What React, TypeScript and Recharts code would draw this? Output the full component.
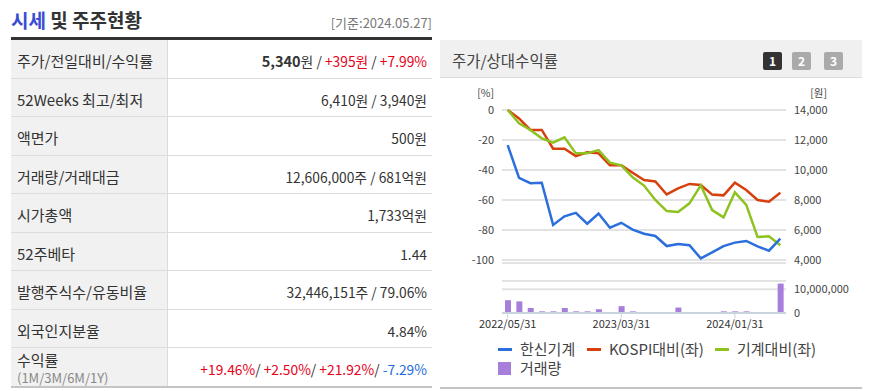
import React from 'react';
import { ComposedChart, Line, Bar, XAxis, YAxis, CartesianGrid } from 'recharts';

// ---------- chart data ----------
const dates = [
  '2022/05/31', '2022/06/30', '2022/07/31', '2022/08/31', '2022/09/30', '2022/10/31',
  '2022/11/30', '2022/12/31', '2023/01/31', '2023/02/28', '2023/03/31', '2023/04/30',
  '2023/05/31', '2023/06/30', '2023/07/31', '2023/08/31', '2023/09/30', '2023/10/31',
  '2023/11/30', '2023/12/31', '2024/01/31', '2024/02/29', '2024/03/31', '2024/04/30',
  '2024/05/27',
];
const hanshinPrice = [
  11660, 9480, 9120, 9150, 6340, 6910, 7140, 6420, 7100, 6150, 6480, 6030,
  5750, 5600, 4930, 5070, 4980, 4110, 4510, 4930, 5160, 5270, 4910, 4620, 5420,
];
const kospiRel = [
  0, -5.6, -13.3, -13.3, -25.8, -25.8, -30.7, -28.2, -28.9, -36.9, -36.9, -41.8,
  -46.7, -47.6, -56.3, -52.2, -49.3, -50, -56.4, -56.9, -48.4, -53.3, -60, -61.1, -55.1,
];
const machineRel = [
  0, -8.9, -13.3, -18.9, -21.8, -18.2, -28.9, -28.9, -26.7, -35.1, -36.9, -44.9,
  -50.4, -60, -67.4, -68, -62.2, -50.2, -66.7, -71.6, -54.9, -63.3, -84.7, -84.2, -90.2,
];
const volume = [
  5400000, 4900000, 2100000, 700000, 700000, 2100000, 700000, 700000, 1600000, 0,
  2900000, 700000, 0, 0, 0, 2300000, 0, 0, 0, 700000, 700000, 700000, 0, 0, 12400000,
];
const pctTicks = [0, -20, -40, -60, -80, -100];
const priceTicks = [4000, 6000, 8000, 10000, 12000, 14000];
const volTicks = [0, 10000000];
const dateTicks = ['2022/05/31', '2023/03/31', '2024/01/31'];

// ---------- table data ----------
const RED = '#e6001a';
const BLUE = '#1f6be0';
const rowLabels = [
  '주가/전일대비/수익률', '52Weeks 최고/최저', '액면가', '거래량/거래대금', '시가총액',
  '52주베타', '발행주식수/유동비율', '외국인지분율', '수익률',
];
type Seg = { t: string; c?: string; b?: boolean };
const rowValues: Seg[][] = [
  [{ t: '5,340', b: true }, { t: '원 / ' }, { t: '+395원', c: RED }, { t: ' / ' }, { t: '+7.99%', c: RED }],
  [{ t: '6,410원 / 3,940원' }],
  [{ t: '500원' }],
  [{ t: '12,606,000주 / 681억원' }],
  [{ t: '1,733억원' }],
  [{ t: '1.44' }],
  [{ t: '32,446,151주 / 79.06%' }],
  [{ t: '4.84%' }],
  [
    { t: '+19.46%', c: RED }, { t: '/ ' }, { t: '+2.50%', c: RED }, { t: '/ ' },
    { t: '+21.92%', c: RED }, { t: '/ ' }, { t: '-7.29%', c: BLUE },
  ],
];
const legendLines = [
  { name: '한신기계', color: '#2c6fdc', left: 498 },
  { name: 'KOSPI대비(좌)', color: '#d6400c', left: 587 },
  { name: '기계대비(좌)', color: '#8dc21f', left: 715 },
];
const legendBar = { name: '거래량', color: '#a87edb', left: 498 };

const data = dates.map((d, i) => ({
  date: d,
  price: hanshinPrice[i],
  kospi: kospiRel[i],
  machine: machineRel[i],
  vol: volume[i],
}));

const FONT = '"Noto Sans CJK KR", "Noto Sans", sans-serif';
const fmt = (v: number) => v.toLocaleString('en-US');

const abs = (left: number, top: number, extra: React.CSSProperties = {}): React.CSSProperties => ({
  position: 'absolute',
  left,
  top,
  ...extra,
});

export default function App() {
  const rowH = 38.5;
  return (
    <div
      style={{
        position: 'absolute',
        left: 0,
        top: 0,
        width: 875,
        height: 391,
        background: '#fff',
        fontFamily: FONT,
        color: '#333',
        overflow: 'hidden',
      }}
    >
      {/* ----- left panel ----- */}
      <div style={abs(11, 6, { fontSize: 19, fontWeight: 700, lineHeight: '28px', whiteSpace: 'nowrap' })}>
        <span style={{ color: '#3a4bd4' }}>시세</span>
        <span style={{ color: '#333' }}> 및 주주현황</span>
      </div>
      <div style={abs(300, 13, { width: 132, textAlign: 'right', fontSize: 13, color: '#777', lineHeight: '20px' })}>
        [기준:2024.05.27]
      </div>
      <div style={abs(11, 37, { width: 421, height: 3, background: '#333' })} />
      {rowLabels.map((lab, i) => {
        const top = 40 + i * rowH;
        const last = i === rowLabels.length - 1;
        return (
          <React.Fragment key={lab}>
            <div style={abs(11, top, { width: 156, height: rowH, background: '#f1f1f1' })} />
            <div style={abs(167, top, { width: 1, height: rowH, background: '#dcdcdc' })} />
            {!last && <div style={abs(11, top + rowH - 1, { width: 421, height: 1, background: '#dcdcdc' })} />}
            {!last ? (
              <div style={abs(17, top, { height: rowH, lineHeight: `${rowH + 4}px`, fontSize: 15, color: '#333', whiteSpace: 'nowrap' })}>
                {lab}
              </div>
            ) : (
              <>
                <div style={abs(17, top + 2, { fontSize: 15, lineHeight: '20px', color: '#333' })}>{lab}</div>
                <div style={abs(17, top + 22, { fontSize: 13, lineHeight: '16px', color: '#888', whiteSpace: 'nowrap' })}>(1M/3M/6M/1Y)</div>
              </>
            )}
            <div
              style={abs(168, top, {
                width: 259,
                height: rowH,
                lineHeight: `${rowH + 4}px`,
                textAlign: 'right',
                fontSize: 13.8,
                color: '#333',
                whiteSpace: 'nowrap',
              })}
            >
              {rowValues[i].map((s, j) => (
                <span key={j} style={{ color: s.c || '#333', fontWeight: s.b ? 700 : 400, fontSize: s.b ? 14.5 : 13.8 }}>
                  {s.t}
                </span>
              ))}
            </div>
          </React.Fragment>
        );
      })}
      <div style={abs(11, 386, { width: 421, height: 2, background: '#c4c4c4' })} />

      {/* ----- right panel ----- */}
      <div style={abs(440, 40, { width: 422, height: 37, background: '#f0f0f0', borderBottom: '1px solid #dcdcdc' })} />
      <div style={abs(452, 49, { fontSize: 15.5, lineHeight: '22px', color: '#444' })}>주가/상대수익률</div>
      {['1', '2', '3'].map((n, i) => (
        <div
          key={n}
          style={abs([763, 792, 824][i], 52, {
            width: 19,
            height: 18,
            borderRadius: 2,
            background: i === 0 ? '#333' : '#aaa',
            color: '#fff',
            fontSize: 12,
            fontWeight: 700,
            lineHeight: '18px',
            textAlign: 'center',
          })}
        >
          {n}
        </div>
      ))}
      <div style={abs(470, 86, { width: 24, textAlign: 'right', fontSize: 10.5, color: '#444', lineHeight: '14px' })}>[%]</div>
      <div style={abs(800, 86, { width: 27, textAlign: 'right', fontSize: 10.5, color: '#444', lineHeight: '14px' })}>[원]</div>

      <div style={abs(440, 85)}>
        <ComposedChart width={422} height={190} data={data} margin={{ top: 25, right: 0, bottom: 10, left: 0 }}>
          <CartesianGrid vertical={false} stroke="#e3e3e3" strokeWidth={2} />
          <XAxis
            dataKey="date"
            padding={{ left: 5.68, right: 5.68 }}
            tick={false}
            tickLine={false}
            height={2}
            axisLine={{ stroke: '#e3e3e3', strokeWidth: 2 }}
          />
          <YAxis
            orientation="left"
            width={62}
            domain={[-102, 0]}
            ticks={pctTicks}
            interval={0}
            axisLine={false}
            tickLine={false}
            tick={{ fill: '#444', fontSize: 11 }}
          />
          <YAxis
            yAxisId="price"
            orientation="right"
            width={76}
            domain={[3800, 14000]}
            ticks={priceTicks}
            interval={0}
            axisLine={false}
            tickLine={false}
            tick={{ fill: '#444', fontSize: 11 }}
            tickFormatter={fmt}
          />
          <Line dataKey="kospi" stroke={legendLines[1].color} strokeWidth={2.5} dot={false} isAnimationActive={false} />
          <Line dataKey="machine" stroke={legendLines[2].color} strokeWidth={2.5} dot={false} isAnimationActive={false} />
          <Line yAxisId="price" dataKey="price" stroke={legendLines[0].color} strokeWidth={2.5} dot={false} isAnimationActive={false} />
        </ComposedChart>
      </div>

      <div style={abs(440, 270)}>
        <ComposedChart width={422} height={73} data={data} margin={{ top: 11, right: 0, bottom: 0, left: 62 }}>
          <CartesianGrid yAxisId="vol" vertical={false} stroke="#e3e3e3" strokeWidth={2} />
          <XAxis
            dataKey="date"
            ticks={dateTicks}
            interval={0}
            height={30}
            tickSize={5}
            tickLine={{ stroke: '#c8d3de' }}
            axisLine={{ stroke: '#c8d3de', strokeWidth: 2 }}
            tick={{ fill: '#333', fontSize: 11 }}
          />
          <YAxis
            yAxisId="vol"
            orientation="right"
            width={76}
            domain={[0, 13500000]}
            ticks={volTicks}
            interval={0}
            axisLine={false}
            tickLine={false}
            tick={{ fill: '#444', fontSize: 11 }}
            tickFormatter={fmt}
          />
          <Bar yAxisId="vol" dataKey="vol" fill={legendBar.color} barSize={6} isAnimationActive={false} />
        </ComposedChart>
      </div>

      {/* legend */}
      {legendLines.map((l) => (
        <div key={l.name} style={abs(l.left, 339, { display: 'flex', alignItems: 'center', height: 20, whiteSpace: 'nowrap' })}>
          <div style={{ width: 14, height: 3, background: l.color, marginRight: 8 }} />
          <span style={{ fontSize: 15, color: '#444', lineHeight: '20px' }}>{l.name}</span>
        </div>
      ))}
      <div style={abs(legendBar.left, 358, { display: 'flex', alignItems: 'center', height: 20, whiteSpace: 'nowrap' })}>
        <div style={{ width: 13, height: 13, background: legendBar.color, marginRight: 9 }} />
        <span style={{ fontSize: 15, color: '#444', lineHeight: '20px' }}>{legendBar.name}</span>
      </div>
      <div style={abs(440, 387, { width: 422, height: 2, background: '#c4c4c4' })} />
    </div>
  );
}
